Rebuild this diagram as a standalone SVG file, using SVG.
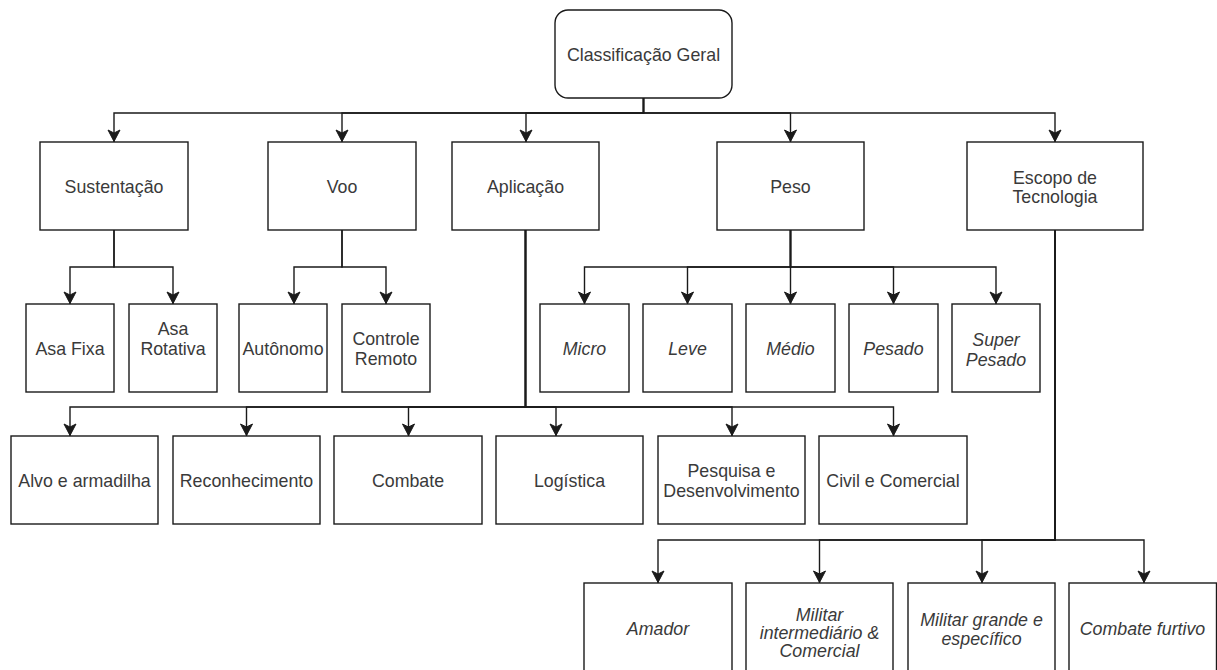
<svg xmlns="http://www.w3.org/2000/svg" width="1217" height="670" viewBox="0 0 1217 670">
  <style>
    .box { fill: #ffffff; stroke: #1a1a1a; stroke-width: 1.4; }
    .lbl { font-family: "Liberation Sans", Arial, Helvetica, sans-serif; font-size: 17.8px; fill: #3a3a3a; text-anchor: middle; }
    .it { font-style: italic; }
    .edge { fill: none; stroke: #1a1a1a; stroke-width: 1.4; marker-end: url(#arrow); }
  </style>
  <defs>
    <!-- notched block arrow, drawn pointing along +x -->
    <marker id="arrow" markerUnits="userSpaceOnUse" markerWidth="16" markerHeight="16" viewBox="-14 -8 16 16" refX="0" refY="0" orient="auto">
      <path d="M-0.5,0 L-12,-6 L-9,0 L-12,6 Z" fill="#1a1a1a" stroke="#1a1a1a" stroke-width="1" stroke-linejoin="miter"/>
    </marker>
  </defs>
  <rect width="1217" height="670" fill="#ffffff"/>

  <!-- connectors -->
  <g id="connectors">
    <!-- root to first level -->
    <path class="edge" d="M643.5,98 V113 H114 V142"/>
    <path class="edge" d="M643.5,98 V113 H342 V142"/>
    <path class="edge" d="M643.5,98 V113 H526 V142"/>
    <path class="edge" d="M643.5,98 V113 H790.5 V142"/>
    <path class="edge" d="M643.5,98 V113 H1055 V142"/>
    <!-- Sustentação -->
    <path class="edge" d="M114,230 V267 H70 V304"/>
    <path class="edge" d="M114,230 V267 H173 V304"/>
    <!-- Voo -->
    <path class="edge" d="M342,230 V267 H294 V304"/>
    <path class="edge" d="M342,230 V267 H386 V304"/>
    <!-- Peso -->
    <path class="edge" d="M790.5,230 V267 H584.5 V304"/>
    <path class="edge" d="M790.5,230 V267 H687.5 V304"/>
    <path class="edge" d="M790.5,230 V304"/>
    <path class="edge" d="M790.5,230 V267 H893.5 V304"/>
    <path class="edge" d="M790.5,230 V267 H996 V304"/>
    <!-- Aplicação -->
    <path class="edge" d="M525.5,230 V407 H70 V436"/>
    <path class="edge" d="M525.5,230 V407 H246.5 V436"/>
    <path class="edge" d="M525.5,230 V407 H408.5 V436"/>
    <path class="edge" d="M525.5,230 V407 H556 V436"/>
    <path class="edge" d="M525.5,230 V407 H732 V436"/>
    <path class="edge" d="M525.5,230 V407 H893.5 V436"/>
    <!-- Escopo de Tecnologia -->
    <path class="edge" d="M1055,230 V540 H658 V583"/>
    <path class="edge" d="M1055,230 V540 H819.5 V583"/>
    <path class="edge" d="M1055,230 V540 H982 V583"/>
    <path class="edge" d="M1055,230 V540 H1144 V583"/>
  </g>

  <!-- root -->
  <g id="classificacao-geral">
    <rect class="box" x="555" y="10" width="177" height="88" rx="13" ry="13"/>
    <text class="lbl" x="643.5" y="60.5">Classificação Geral</text>
  </g>

  <!-- first level -->
  <g id="sustentacao">
    <rect class="box" x="40" y="142" width="148" height="88"/>
    <text class="lbl" x="114" y="192.5">Sustentação</text>
  </g>
  <g id="voo">
    <rect class="box" x="268" y="142" width="148" height="88"/>
    <text class="lbl" x="342" y="192.5">Voo</text>
  </g>
  <g id="aplicacao">
    <rect class="box" x="452" y="142" width="147" height="88"/>
    <text class="lbl" x="525.5" y="192.5">Aplicação</text>
  </g>
  <g id="peso">
    <rect class="box" x="717" y="142" width="147" height="88"/>
    <text class="lbl" x="790.5" y="192.5">Peso</text>
  </g>
  <g id="escopo-de-tecnologia">
    <rect class="box" x="967" y="142" width="176" height="88"/>
    <text class="lbl" x="1055" y="183.5">Escopo de</text>
    <text class="lbl" x="1055" y="203">Tecnologia</text>
  </g>

  <!-- Sustentação / Voo children -->
  <g id="asa-fixa">
    <rect class="box" x="26" y="304" width="88" height="88"/>
    <text class="lbl" x="70" y="354.5">Asa Fixa</text>
  </g>
  <g id="asa-rotativa">
    <rect class="box" x="129" y="304" width="88" height="88"/>
    <text class="lbl" x="173" y="334.5">Asa</text>
    <text class="lbl" x="173" y="354.5">Rotativa</text>
  </g>
  <g id="autonomo">
    <rect class="box" x="239" y="304" width="88" height="88"/>
    <text class="lbl" x="283" y="354.5">Autônomo</text>
  </g>
  <g id="controle-remoto">
    <rect class="box" x="342" y="304" width="88" height="88"/>
    <text class="lbl" x="386" y="344.5">Controle</text>
    <text class="lbl" x="386" y="365">Remoto</text>
  </g>

  <!-- Peso children -->
  <g id="micro">
    <rect class="box" x="540" y="304" width="89" height="88"/>
    <text class="lbl it" x="584.5" y="354.5">Micro</text>
  </g>
  <g id="leve">
    <rect class="box" x="643" y="304" width="89" height="88"/>
    <text class="lbl it" x="687.5" y="354.5">Leve</text>
  </g>
  <g id="medio">
    <rect class="box" x="746" y="304" width="89" height="88"/>
    <text class="lbl it" x="790.5" y="354.5">Médio</text>
  </g>
  <g id="pesado">
    <rect class="box" x="849" y="304" width="89" height="88"/>
    <text class="lbl it" x="893.5" y="354.5">Pesado</text>
  </g>
  <g id="super-pesado">
    <rect class="box" x="952" y="304" width="88" height="88"/>
    <text class="lbl it" x="996" y="345.5">Super</text>
    <text class="lbl it" x="996" y="366">Pesado</text>
  </g>

  <!-- Aplicação children -->
  <g id="alvo-e-armadilha">
    <rect class="box" x="11" y="436" width="147" height="88"/>
    <text class="lbl" x="84.5" y="486.5">Alvo e armadilha</text>
  </g>
  <g id="reconhecimento">
    <rect class="box" x="173" y="436" width="147" height="88"/>
    <text class="lbl" x="246.5" y="486.5">Reconhecimento</text>
  </g>
  <g id="combate">
    <rect class="box" x="334" y="436" width="148" height="88"/>
    <text class="lbl" x="408" y="486.5">Combate</text>
  </g>
  <g id="logistica">
    <rect class="box" x="496" y="436" width="147" height="88"/>
    <text class="lbl" x="569.5" y="486.5">Logística</text>
  </g>
  <g id="pesquisa-e-desenvolvimento">
    <rect class="box" x="658" y="436" width="147" height="88"/>
    <text class="lbl" x="731.5" y="477">Pesquisa e</text>
    <text class="lbl" x="731.5" y="497">Desenvolvimento</text>
  </g>
  <g id="civil-e-comercial">
    <rect class="box" x="819" y="436" width="148" height="88"/>
    <text class="lbl" x="893" y="486.5">Civil e Comercial</text>
  </g>

  <!-- Escopo de Tecnologia children -->
  <g id="amador">
    <rect class="box" x="584" y="583" width="148" height="88"/>
    <text class="lbl it" x="658" y="635">Amador</text>
  </g>
  <g id="militar-intermediario-comercial">
    <rect class="box" x="746" y="583" width="147" height="88"/>
    <text class="lbl it" x="819.5" y="621">Militar</text>
    <text class="lbl it" x="819.5" y="639">intermediário &amp;</text>
    <text class="lbl it" x="819.5" y="657">Comercial</text>
  </g>
  <g id="militar-grande-e-especifico">
    <rect class="box" x="908" y="583" width="147" height="88"/>
    <text class="lbl it" x="981.5" y="626">Militar grande e</text>
    <text class="lbl it" x="981.5" y="645">específico</text>
  </g>
  <g id="combate-furtivo">
    <rect class="box" x="1069" y="583" width="147.5" height="88"/>
    <text class="lbl it" x="1142.5" y="634.5">Combate furtivo</text>
  </g>
</svg>
